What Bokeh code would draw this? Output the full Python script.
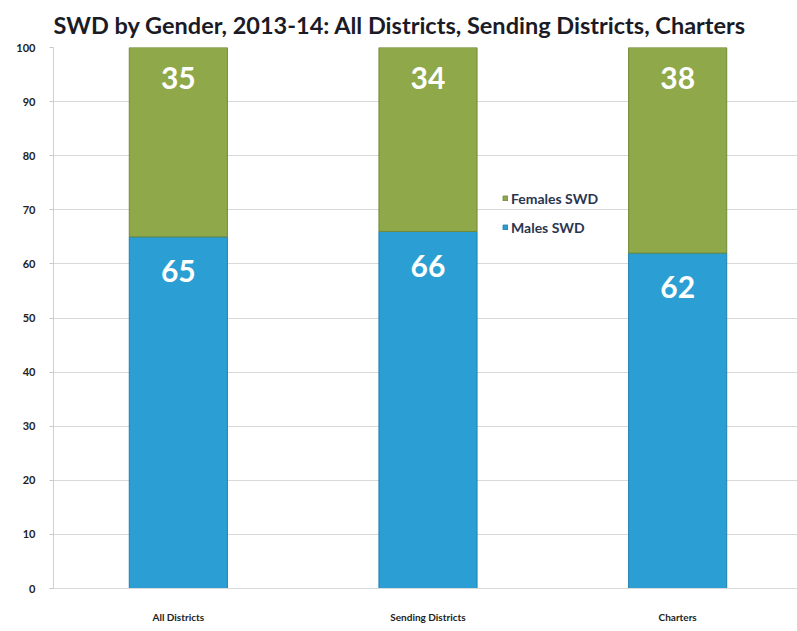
from bokeh.plotting import figure
from bokeh.models import Range1d, FixedTicker, Legend, LegendItem, ColumnDataSource
from bokeh.core.properties import value
from bokeh.embed import file_html
from bokeh.resources import INLINE

categories = ["All Districts", "Sending Districts", "Charters"]
males = [65, 66, 62]
females = [35, 34, 38]
y_ticks = [0, 10, 20, 30, 40, 50, 60, 70, 80, 90, 100]

BLUE = "#2b9fd3"
BLUE_EDGE = "#1f7fae"
GREEN = "#8fa84a"
GREEN_EDGE = "#6f8a38"
FONT = "Lato"

xs = [i + 0.5 for i in range(len(categories))]
tops = [m + f for m, f in zip(males, females)]

p = figure(width=797, height=631, output_backend="svg", toolbar_location=None,
           x_range=Range1d(0, 2.98), y_range=Range1d(0, 100),
           min_border_left=53, min_border_right=0, min_border_top=46, min_border_bottom=43)
p.outline_line_color = None

p.title.text = "SWD by Gender, 2013-14: All Districts, Sending Districts, Charters"
p.title.text_font = FONT
p.title.text_font_size = "23.5px"
p.title.text_font_style = "bold"
p.title.text_color = "#1b1b26"
p.title.offset = 0
p.title.standoff = 17

src = ColumnDataSource(dict(x=xs, males=males, females=females, tops=tops,
                            mlab=[str(v) for v in males], flab=[str(v) for v in females],
                            my=[m - 6.3 for m in males], fy=[t - 5.7 for t in tops]))

rm = p.vbar(x="x", width=0.393, bottom=0, top="males", source=src,
            fill_color=BLUE, line_color=BLUE_EDGE, line_width=1)
rf = p.vbar(x="x", width=0.393, bottom="males", top="tops", source=src,
            fill_color=GREEN, line_color=GREEN_EDGE, line_width=1)

p.text(x="x", y="my", text="mlab", source=src, text_align="center", text_baseline="middle",
       text_color="white", text_font=value(FONT), text_font_style="bold", text_font_size="30px")
p.text(x="x", y="fy", text="flab", source=src, text_align="center", text_baseline="middle",
       text_color="white", text_font=value(FONT), text_font_style="bold", text_font_size="30px")

# axes
p.xaxis.ticker = FixedTicker(ticks=xs)
p.xaxis.major_label_overrides = {x: c for x, c in zip(xs, categories)}
p.xaxis.axis_line_color = "#d9d9d9"
p.xaxis.major_tick_line_color = None
p.xaxis.minor_tick_line_color = None
p.xaxis.major_label_text_font = FONT
p.xaxis.major_label_text_font_size = "10px"
p.xaxis.major_label_text_font_style = "bold"
p.xaxis.major_label_text_color = "#222222"
p.xaxis.major_label_standoff = 16

p.yaxis.ticker = FixedTicker(ticks=y_ticks)
p.yaxis.axis_line_color = "#d0d0d0"
p.yaxis.major_tick_line_color = "#c8c8c8"
p.yaxis.major_tick_out = 4
p.yaxis.major_tick_in = 0
p.yaxis.minor_tick_line_color = None
p.yaxis.major_label_text_font = FONT
p.yaxis.major_label_text_font_size = "11px"
p.yaxis.major_label_text_font_style = "bold"
p.yaxis.major_label_text_color = "#222222"
p.yaxis.major_label_standoff = 14

p.xgrid.grid_line_color = None
p.ygrid.grid_line_color = "#d9d9d9"
p.ygrid.grid_line_width = 1

legend = Legend(items=[LegendItem(label="Females SWD", renderers=[rf]),
                       LegendItem(label="Males SWD", renderers=[rm])],
                location=(449, 351), padding=0, margin=0, spacing=9,
                label_height=20, glyph_height=6, glyph_width=6, label_standoff=3,
                label_text_font=FONT, label_text_font_size="14px",
                label_text_font_style="bold", label_text_color="#2a3550",
                background_fill_alpha=0, border_line_color=None)
p.add_layout(legend)

open("out.html", "w").write(file_html(p, INLINE))
